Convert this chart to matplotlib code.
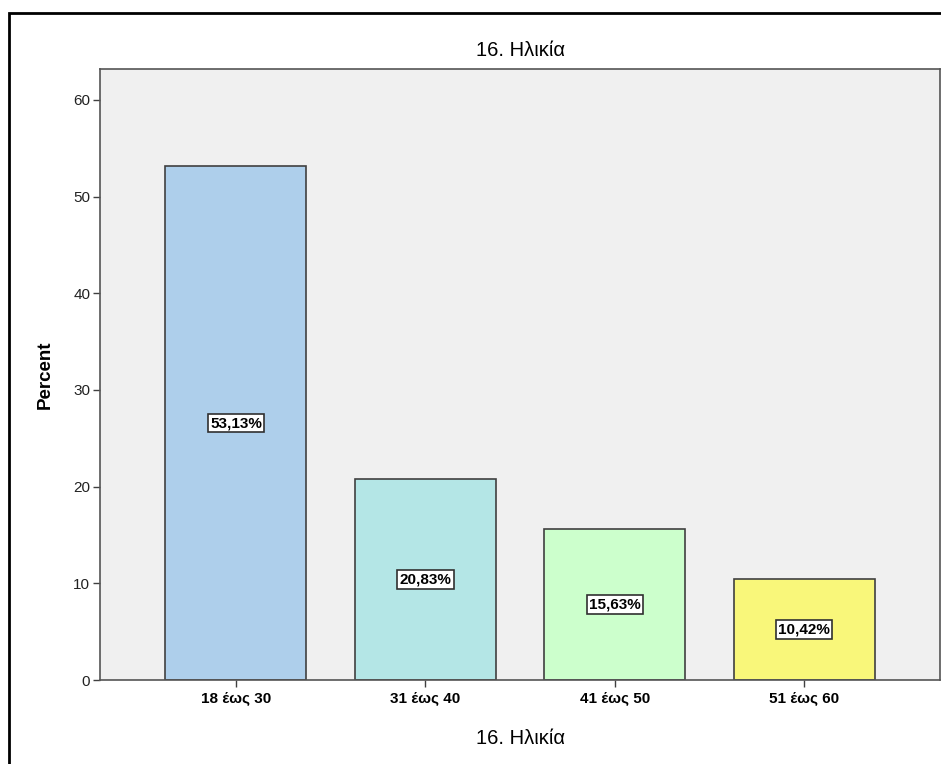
import matplotlib
matplotlib.use('Agg')
import matplotlib.pyplot as plt
from matplotlib.patches import Rectangle

plt.rcParams['font.family'] = ['Liberation Sans', 'DejaVu Sans']

# Κατανομή ηλικιών (%)
categories = ['18 έως 30', '31 έως 40', '41 έως 50', '51 έως 60']
percent = [53.13, 20.83, 15.63, 10.42]
bar_colors = ['#aecfeb', '#b4e6e6', '#ccffcc', '#f9f77a']
y_ticks = [0, 10, 20, 30, 40, 50, 60]

W, H = 941, 764
fig = plt.figure(figsize=(W / 100, H / 100), dpi=100)
fig.patch.set_facecolor('white')

# πλαίσιο γραφήματος
fig.patches.append(Rectangle((9 / W, -0.1), 1.2, 1 - 13 / H + 0.1,
                             transform=fig.transFigure, fill=False,
                             edgecolor='black', lw=2.0))

ax = fig.add_axes([100 / W, 1 - 680 / H, 840 / W, 611 / H])
ax.set_facecolor('#f0f0f0')

x = range(len(categories))
ax.bar(x, percent, width=0.745, color=bar_colors, edgecolor='#404040', lw=1.2, zorder=2)

for xi, v in zip(x, percent):
    ax.text(xi, v / 2, f"{v:.2f}%".replace('.', ','), ha='center', va='center',
            fontsize=11, fontweight='bold', zorder=3,
            bbox=dict(boxstyle='square,pad=0.15', facecolor='white', edgecolor='#303030', lw=1.2))

ax.set_xlim(-0.718, 3.718)
ax.set_ylim(0, 63.2)
ax.set_yticks(y_ticks)
ax.set_xticks(list(x))
ax.set_xticklabels(categories, fontsize=11, fontweight='bold')
ax.tick_params(axis='y', labelsize=11, length=5, width=1, colors='#404040', labelcolor='#222222', pad=2)
ax.tick_params(axis='x', length=5, width=1, colors='#404040', labelcolor='black', pad=3)

for s in ax.spines.values():
    s.set_color('#555555')
    s.set_linewidth(1.2)

ax.set_ylabel('Percent', fontsize=13.5, fontweight='bold', labelpad=14)
fig.text((100 + 940) / 2 / W, 1 - 50 / H, '16. Ηλικία', ha='center', va='center', fontsize=14.5)
fig.text((100 + 940) / 2 / W, 1 - 738 / H, '16. Ηλικία', ha='center', va='center', fontsize=14.5)

fig.savefig('out.png', dpi=100)
